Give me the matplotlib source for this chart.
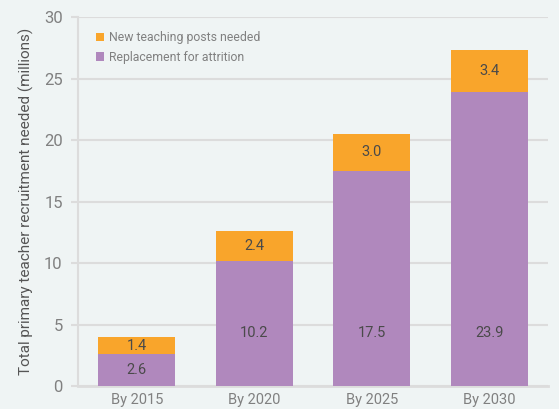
import numpy as np
import matplotlib
matplotlib.use("Agg")
import matplotlib.pyplot as plt

# data
years = ["By 2015", "By 2020", "By 2025", "By 2030"]
replacement = [2.6, 10.2, 17.5, 23.9]
new_posts = [1.4, 2.4, 3.0, 3.4]

bg = "#eff4f4"
orange = "#f9a52b"
purple = "#b088bd"
grid_c = "#dcdcdc"
txt_c = "#4a4a4a"
tick_c = "#808080"

plt.rcParams['font.family'] = ['Roboto', 'DejaVu Sans']

fig = plt.figure(figsize=(5.59, 4.09), dpi=100, facecolor=bg)
ax = fig.add_axes([0.1395, 0.056, 0.8405, 0.902], facecolor=bg)

x = np.arange(len(years))
w = 0.655
ax.bar(x, replacement, w, color=purple, label="Replacement for attrition", zorder=3)
ax.bar(x, new_posts, w, bottom=replacement, color=orange,
       label="New teaching posts needed", zorder=3)

for i in range(len(years)):
    # purple label sits low in the bar, orange one centered
    ax.text(x[i], min(replacement[i] / 2, 4.3), "%.1f" % replacement[i],
            ha='center', va='center', fontsize=10.5, color=txt_c, zorder=4)
    ax.text(x[i], replacement[i] + new_posts[i] / 2, "%.1f" % new_posts[i],
            ha='center', va='center', fontsize=10.5, color=txt_c, zorder=4)

ax.set_xlim(-0.5, 3.5)
ax.set_ylim(0, 30)
ax.set_yticks(range(0, 31, 5))
ax.set_xticks(x)
ax.set_xticklabels(years)
ax.grid(axis='y', color=grid_c, linewidth=1.5, zorder=0)
ax.tick_params(axis='y', colors=tick_c, length=5, width=1.5, labelsize=12, pad=6)
for lbl in ax.get_yticklabels():
    lbl.set_color(tick_c)
ax.tick_params(axis='y', color=grid_c)
ax.tick_params(axis='x', length=0, labelsize=10.5, labelcolor=tick_c, pad=5)
for s in ['top', 'right']:
    ax.spines[s].set_visible(False)
ax.spines['left'].set_color(grid_c)
ax.spines['left'].set_linewidth(1.5)
ax.spines['bottom'].set_color(grid_c)
ax.spines['bottom'].set_linewidth(2)
ax.set_ylabel("Total primary teacher recruitment needed (millions)",
              fontsize=11, color="#555555", labelpad=7)

h, l = ax.get_legend_handles_labels()
leg = ax.legend(h[::-1], l[::-1], loc='upper left', bbox_to_anchor=(0.02, 0.985),
                frameon=False, fontsize=8.8, handlelength=0.7, handleheight=0.7,
                handletextpad=0.4, labelspacing=0.55, borderaxespad=0.3)
for t in leg.get_texts():
    t.set_color(tick_c)

plt.savefig("out.png", dpi=100, facecolor=bg)
